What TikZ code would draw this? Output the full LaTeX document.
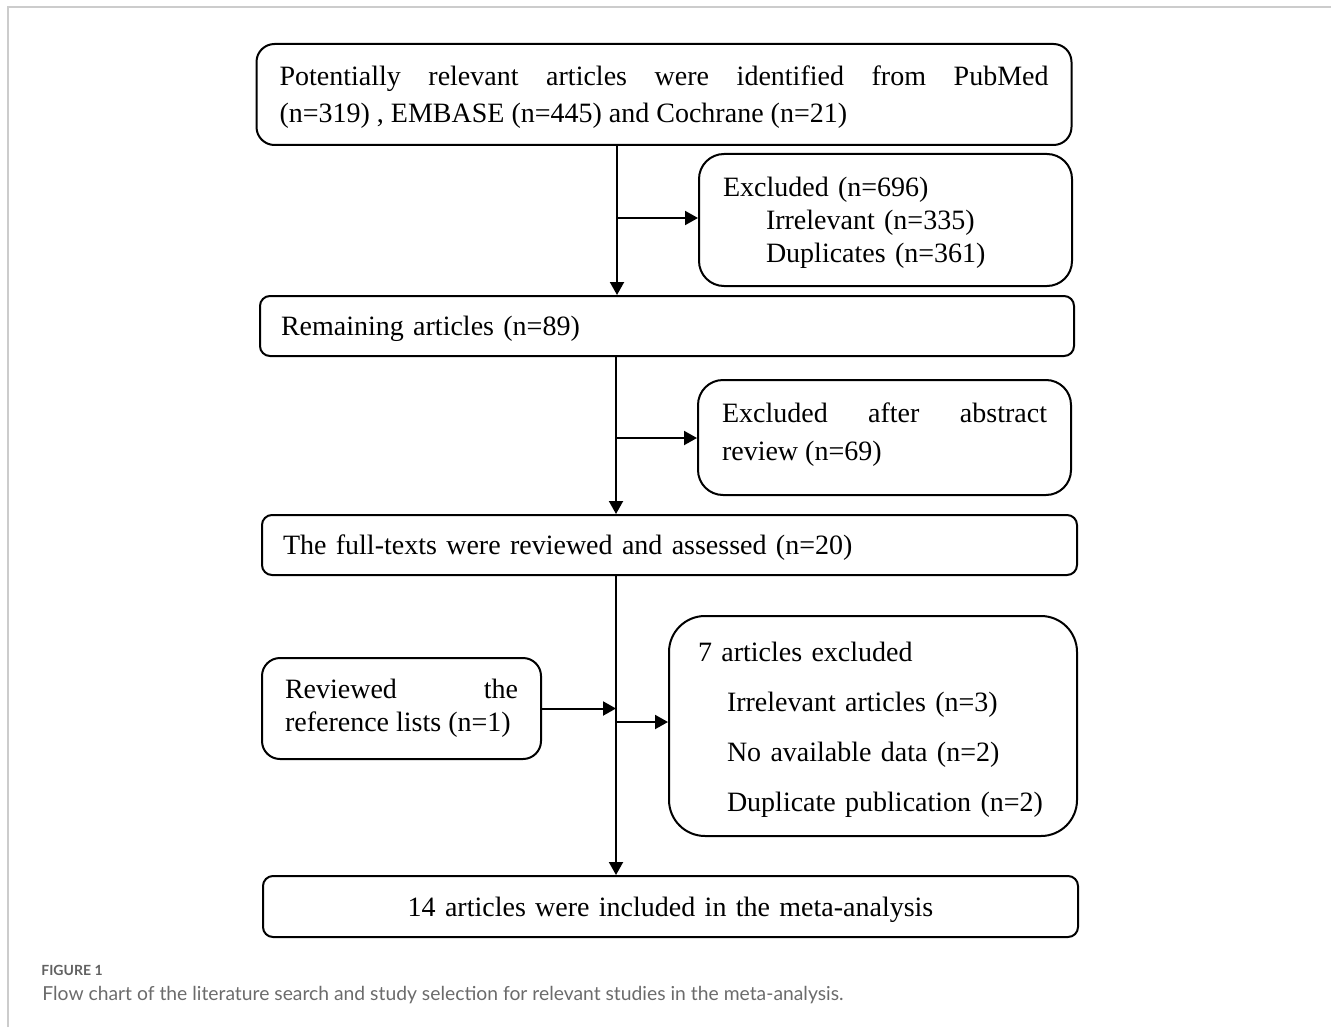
\documentclass[tikz,border=0pt]{standalone}
\usepackage{fontspec}
\setmainfont{Liberation Serif}
\newfontfamily\capfont{Lato}
\usetikzlibrary{arrows.meta}
\begin{document}
\begin{tikzpicture}[x=0.5pt,y=-0.5pt,>={Triangle[length=6.5pt,width=7pt]},
  box/.style={draw,line width=1pt,inner ysep=0pt,
    font=\fontsize{14}{18.5}\selectfont},
  oneline/.style={box,align=left,text depth=0pt,inner xsep=10.5pt,
    minimum height=30pt,rounded corners=5pt},
  arr/.style={->,line width=1pt}]
  \useasboundingbox (0,0) rectangle (1331,1027);
  \draw[black!20,line width=0.6pt] (8,1027) -- (8,7) -- (1331,7);
  % boxes
  \node[box,rounded corners=9pt,align=justify,text width=384.5pt,
    inner xsep=11.5pt,minimum height=50.5pt] (search) at (664,94.5)
    {\rule{0pt}{12.6pt}Potentially relevant articles were identified from PubMed\linebreak
     (n=319) , EMBASE (n=445) and Cochrane (n=21)};
  \node[box,rounded corners=12.5pt,align=left,text width=162.5pt,
    inner xsep=12pt,minimum height=66pt,
    font=\fontsize{14}{16.5}\selectfont] (excl1) at (885.5,220)
    {\rule{0pt}{12.7pt}Excluded (n=696)\\\hspace*{21.5pt}Irrelevant (n=335)\\
     \hspace*{21.5pt}Duplicates (n=361)};
  \node[oneline,text width=386pt] (remain) at (667,326)
    {Remaining articles (n=89)};
  \node[box,rounded corners=12.5pt,align=justify,text width=162.5pt,
    inner xsep=12pt,minimum height=57.5pt,
    font=\fontsize{14}{19}\selectfont] (excl2) at (884.5,437.5)
    {Excluded after abstract\linebreak review (n=69)\rule[-6pt]{0pt}{6pt}};
  \node[oneline,text width=386.5pt] (full) at (669.5,545)
    {The full-texts were reviewed and assessed (n=20)};
  \node[box,rounded corners=9pt,align=justify,text width=116.5pt,
    inner xsep=11.5pt,minimum height=50.5pt,
    font=\fontsize{14}{16.5}\selectfont] (refl) at (401.5,708.5)
    {Reviewed the\linebreak reference lists (n=1)};
  \node[box,rounded corners=18pt,align=left,text width=175pt,
    inner xsep=14.5pt,minimum height=110pt,
    font=\fontsize{14}{25}\selectfont] (excl3) at (873,726)
    {\rule{0pt}{13.1pt}7 articles excluded\\\hspace*{14.5pt}Irrelevant articles (n=3)\\
     \hspace*{14.5pt}No available data (n=2)\\
     \hspace*{14.5pt}Duplicate publication (n=2)};
  \node[oneline,align=center,text width=386.5pt,minimum height=30.5pt] (incl)
    at (670.5,906.5) {14 articles were included in the meta-analysis};
  % connectors
  \coordinate (t1) at (617,218);
  \coordinate (t2) at (616,438);
  \coordinate (t3) at (616,722);
  \draw[arr] (t1 |- search.south) -- (t1 |- remain.north);
  \draw[arr] (t1) -- (t1 -| excl1.west);
  \draw[arr] (t2 |- remain.south) -- (t2 |- full.north);
  \draw[arr] (t2) -- (t2 -| excl2.west);
  \draw[arr] (t3 |- full.south) -- (t3 |- incl.north);
  \draw[arr] (t3) -- (t3 -| excl3.west);
  \draw[arr] (refl.east) -- (refl.east -| t3);
  % caption
  \node[anchor=base west,inner sep=0pt,text=black!62,
    font=\fontsize{7}{8}\capfont\bfseries] (fig) at (41,975) {FIGURE 1};
  \node[anchor=base west,inner sep=0pt,text=black!58,
    font=\fontsize{9.65}{11}\capfont] (cap) at (42,1000)
    {Flow chart of the literature search and study selection for relevant studies in the meta-analysis.};
\end{tikzpicture}
\end{document}
